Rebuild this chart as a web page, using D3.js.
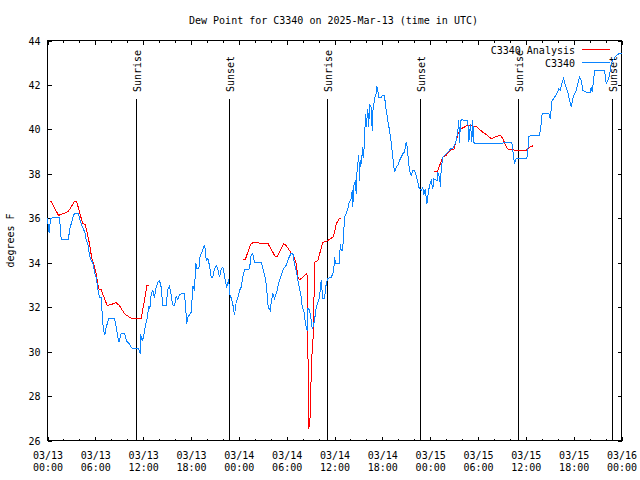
<!DOCTYPE html>
<html><head><meta charset="utf-8">
<script src="https://cdn.jsdelivr.net/npm/d3@7"></script>
<style>
body{margin:0;background:#fff}
svg text{font-family:"DejaVu Sans Mono","Liberation Mono",monospace;font-size:10px;fill:#000}
</style>
</head><body>
<svg id="chart" width="640" height="480"></svg>
<script>
const titleText = "Dew Point for C3340 on 2025-Mar-13 (time in UTC)";
const yAxisLabel = "degrees F";
const startUTC = Date.UTC(2025, 2, 13, 0, 0);
const xDomainHours = [0, 72];
const yDomain = [26, 44];
const yTickValues = [26, 28, 30, 32, 34, 36, 38, 40, 42, 44];
const xMajorHours = [0, 6, 12, 18, 24, 30, 36, 42, 48, 54, 60, 66, 72];
const xMinorHours = [2, 4, 8, 10, 14, 16, 20, 22, 26, 28, 32, 34, 38, 40, 44, 46, 50, 52, 56, 58, 62, 64, 68, 70];
const sunLabels = ["Sunrise", "Sunset", "Sunrise", "Sunset", "Sunrise", "Sunset"];
const sunHours = [11.05, 22.73, 35.03, 46.78, 59.0, 70.86];
const legendNames = ["C3340 Analysis", "C3340"];

// Observations C3340: [hours since 03/13 00:00 UTC, deg F]
const obsSeries = [[0,36.02],[0.04,35.83],[0.21,35.33],[0.38,35.98],[0.66,36.02],[1.51,36.02],[1.72,35.03],[2.63,35.03],[2.76,35.48],[2.97,35.75],[3.17,36.02],[3.39,36.23],[3.89,36.23],[4.01,36.02],[4.23,35.75],[4.43,35.57],[4.73,35.33],[4.85,35.03],[5.06,34.85],[5.27,34.33],[5.48,34.1],[5.68,34.02],[5.9,33.57],[6.11,33.35],[6.31,32.83],[6.52,32.42],[6.74,32.42],[6.86,31.7],[7.02,30.95],[7.19,30.77],[7.36,31.1],[7.69,31.48],[8.4,31.48],[8.62,31.1],[8.94,30.42],[9.24,30.8],[9.66,30.8],[9.95,30.47],[10.2,30.38],[10.5,30.2],[10.79,30.12],[11.45,30.12],[11.63,29.9],[11.67,30.8],[11.88,30.5],[12.04,30.65],[12.29,31.2],[12.46,31.4],[12.71,32.07],[12.83,31.9],[13.01,32.6],[13.21,32.75],[13.42,32.42],[13.63,32.9],[13.84,33.12],[14.05,33.2],[14.26,32.9],[14.46,32.07],[14.89,32.07],[15.09,32.8],[15.3,32.95],[15.52,32.53],[15.68,32.1],[15.93,32.07],[16.14,32.5],[16.34,32.35],[16.56,32.55],[16.77,32.6],[17.19,32.6],[17.31,32.03],[17.47,31.25],[17.6,31.55],[17.81,31.65],[18.03,31.77],[18.23,32.95],[18.44,32.75],[18.6,34.0],[18.75,33.73],[18.98,33.73],[19.15,34.33],[19.4,34.48],[19.57,34.7],[19.73,34.78],[19.91,34.1],[20.11,34.18],[20.32,33.88],[20.53,33.35],[20.74,33.35],[20.95,33.73],[21.16,33.88],[21.36,33.73],[21.58,33.35],[21.79,33.73],[21.99,33.8],[22.2,33.43],[22.33,33.12],[22.49,32.9],[22.74,33.25],[22.83,32.6],[23.04,32.42],[23.24,32.15],[23.46,31.63],[23.67,32.23],[23.87,32.4],[24.08,32.75],[24.3,32.9],[24.5,33.35],[24.71,33.68],[25.25,33.68],[25.42,33.95],[25.55,34.37],[25.75,34.4],[25.97,34.02],[26.81,34.02],[27.01,33.73],[27.35,33.28],[27.51,32.75],[27.68,32.0],[27.94,31.85],[28.06,32.23],[28.26,32.6],[28.48,32.38],[28.76,32.68],[29.01,33.12],[29.32,33.43],[29.6,33.73],[29.94,33.88],[30.27,34.22],[30.57,34.43],[30.77,34.43],[30.98,33.95],[31.2,33.65],[31.4,33.2],[31.61,32.83],[31.82,32.45],[31.95,32.0],[32.15,31.85],[32.33,31.32],[32.45,31.1],[32.58,30.95],[32.65,31.93],[32.87,31.9],[33.08,31.4],[33.2,31.03],[33.37,31.18],[33.58,31.63],[33.71,32.0],[34.12,32.45],[34.33,33.23],[34.53,32.38],[34.75,32.38],[34.96,33.05],[35.16,33.28],[35.59,33.35],[35.79,33.5],[35.91,33.65],[36.0,34.25],[36.13,33.95],[36.63,33.98],[36.72,34.85],[36.84,34.55],[37.0,34.55],[37.13,35.15],[37.26,36.05],[37.47,36.2],[37.67,36.43],[37.79,36.65],[38.09,36.88],[38.22,37.25],[38.3,36.5],[38.38,37.4],[38.51,37.55],[38.63,37.7],[38.72,37.1],[38.8,38.0],[38.92,38.45],[39.05,38.83],[39.14,37.7],[39.23,38.6],[39.35,38.45],[39.55,39.2],[39.64,38.7],[39.76,39.5],[39.89,40.7],[39.98,40.1],[40.18,40.93],[40.3,40.1],[40.39,41.15],[40.6,41.0],[40.73,39.95],[40.8,40.78],[41.02,41.38],[41.23,41.6],[41.31,41.93],[41.43,41.75],[41.56,41.45],[41.86,41.45],[42.06,41.53],[42.27,41.53],[42.4,41.08],[42.69,40.4],[42.9,39.95],[43.11,39.43],[43.31,38.75],[43.53,38.08],[43.74,38.3],[43.94,38.38],[44.15,38.6],[44.37,38.75],[44.57,38.9],[44.78,38.98],[45.0,39.43],[45.12,39.2],[45.25,38.68],[45.41,38.15],[45.62,37.93],[45.82,38.15],[46.04,38.15],[46.25,37.93],[46.45,37.63],[46.58,37.4],[46.88,37.25],[47.08,37.4],[47.2,37.03],[47.38,37.33],[47.58,36.65],[47.76,37.1],[47.92,37.5],[48.13,37.7],[48.33,37.33],[48.46,37.78],[48.88,37.7],[48.96,38.08],[49.17,37.85],[49.3,37.4],[49.38,38.23],[49.59,38.75],[49.8,38.83],[50.01,38.9],[50.21,38.98],[50.43,39.05],[50.55,39.13],[50.84,39.13],[51.05,39.28],[51.27,39.5],[51.39,39.73],[51.47,39.95],[51.59,40.4],[51.68,39.38],[51.81,40.4],[51.97,40.43],[52.72,40.4],[52.85,39.43],[53.06,40.25],[53.22,39.43],[53.35,40.43],[53.44,39.43],[53.56,39.38],[55.44,39.38],[56.91,39.38],[58.24,39.43],[58.45,38.83],[58.58,38.45],[58.79,38.68],[60.12,38.68],[60.25,39.05],[60.37,39.68],[60.67,39.73],[61.72,39.73],[61.93,40.25],[62.05,40.73],[62.88,40.73],[63.06,40.48],[63.31,41.38],[63.39,41.3],[63.6,41.45],[63.89,41.6],[64.14,41.83],[64.31,41.75],[64.56,42.1],[64.73,42.28],[64.98,41.98],[65.27,41.68],[65.48,41.3],[65.69,41.0],[65.89,41.38],[66.11,41.6],[66.32,41.75],[66.52,42.05],[66.73,42.35],[66.95,42.2],[67.15,41.75],[67.57,41.68],[68.08,41.68],[68.2,41.9],[68.33,41.68],[68.49,42.2],[68.62,42.65],[69.87,42.65],[70.08,42.05],[70.28,42.2],[70.5,42.43],[70.71,42.95],[70.91,43.1],[71.34,43.33],[71.66,43.4],[72.0,43.4]];

// Analysis C3340 (three runs)
const analysisRun1 = [[0.38,36.8],[1.38,36.13],[2.13,36.23],[2.63,36.32],[3.39,36.76],[3.64,36.77],[4.01,36.3],[4.39,35.78],[4.73,35.72],[4.98,35.33],[5.27,34.85],[5.56,34.18],[5.9,33.8],[6.11,33.5],[6.4,32.83],[6.74,32.78],[7.15,32.38],[7.49,32.07],[7.99,32.12],[8.62,32.2],[9.03,32.07],[9.66,31.7],[10.41,31.52],[11.0,31.48],[11.75,31.48],[12.17,32.33],[12.46,32.96],[12.73,32.96]];
const analysisRun2 = [[24.5,34.13],[24.8,34.13],[25.46,34.82],[25.75,34.9],[27.0,34.88],[27.63,34.88],[28.56,34.28],[28.81,34.28],[29.64,34.85],[29.94,34.78],[30.57,34.43],[30.77,34.4],[31.2,33.95],[31.4,33.35],[31.65,33.23],[32.24,33.43],[32.55,33.53],[32.78,26.53],[32.95,27.1],[33.12,29.6],[33.37,30.9],[33.49,34.02],[33.91,34.1],[34.53,34.92],[35.04,34.97],[35.79,35.15],[36.0,35.33],[36.21,35.75],[36.63,36.0],[36.84,36.0]];
const analysisRun3 = [[48.54,38.09],[48.88,38.09],[49.59,38.75],[50.01,38.83],[50.55,39.08],[50.97,39.1],[51.47,39.77],[51.89,40.03],[52.52,40.15],[52.93,40.18],[53.77,40.13],[54.6,39.87],[55.03,39.77],[55.66,39.58],[56.28,39.68],[56.82,39.73],[57.11,39.58],[57.66,39.13],[58.24,39.08],[59.19,39.05],[60.05,39.05],[60.46,39.2],[60.88,39.26]];

const colors = {analysis: "#ff0000", obs: "#0a84ff"};
const tDate = h => new Date(startUTC + h * 3600000);

const svg = d3.select("#chart");
const L = 47.5, R = 621.5, T = 40.5, B = 440.5;
const x = d3.scaleUtc().domain(xDomainHours.map(tDate)).range([L, R]);
const y = d3.scaleLinear().domain(yDomain).range([B, T]);

// title
svg.append("text").attr("x", 333.5).attr("y", 24).attr("text-anchor", "middle").text(titleText);
// y label
svg.append("text").attr("transform", "translate(14,240.5) rotate(-90)").attr("text-anchor", "middle").text(yAxisLabel);

const fmtFix = g => { g.select(".domain").remove(); g.attr("font-family", null).attr("font-size", null);
  g.selectAll("line").attr("stroke", "#000").attr("shape-rendering", "crispEdges"); };

// bottom axis major
const gB = svg.append("g").attr("transform", `translate(0,${B})`)
  .call(d3.axisBottom(x).tickValues(xMajorHours.map(tDate)).tickSize(-4).tickSizeOuter(0).tickPadding(0)
    .tickFormat(d3.utcFormat("%m/%d|%H:%M")));
fmtFix(gB);
gB.selectAll("text").each(function(d) {
  const parts = d3.utcFormat("%m/%d|%H:%M")(d).split("|");
  const t = d3.select(this).attr("dy", null).attr("y", null).text(null);
  t.append("tspan").attr("x", 0).attr("y", 18.5).text(parts[0]);
  t.append("tspan").attr("x", 0).attr("y", 30.5).text(parts[1]);
});
const gBm = svg.append("g").attr("transform", `translate(0,${B})`)
  .call(d3.axisBottom(x).tickValues(xMinorHours.map(tDate)).tickSize(-2).tickSizeOuter(0).tickFormat(""));
fmtFix(gBm);
// top axis mirror
const gT = svg.append("g").attr("transform", `translate(0,${T})`)
  .call(d3.axisTop(x).tickValues(xMajorHours.map(tDate)).tickSize(-4).tickSizeOuter(0).tickFormat(""));
fmtFix(gT);
const gTm = svg.append("g").attr("transform", `translate(0,${T})`)
  .call(d3.axisTop(x).tickValues(xMinorHours.map(tDate)).tickSize(-2).tickSizeOuter(0).tickFormat(""));
fmtFix(gTm);
// left axis
const gL = svg.append("g").attr("transform", `translate(${L},0)`)
  .call(d3.axisLeft(y).tickValues(yTickValues).tickSize(-4).tickSizeOuter(0).tickPadding(7).tickFormat(d3.format("d")));
fmtFix(gL);
gL.selectAll("text").attr("dy", "0.35em");
// right axis
const gR = svg.append("g").attr("transform", `translate(${R},0)`)
  .call(d3.axisRight(y).tickValues(yTickValues).tickSize(-4).tickSizeOuter(0).tickFormat(""));
fmtFix(gR);

// frame
svg.append("rect").attr("x", L).attr("y", T).attr("width", R - L).attr("height", B - T)
  .attr("fill", "none").attr("stroke", "#000").attr("shape-rendering", "crispEdges");

// sunrise / sunset markers
const sun = svg.append("g");
sunHours.forEach((h, i) => {
  const sx = Math.round(x(tDate(h))) + 0.5;
  sun.append("line").attr("x1", sx).attr("x2", sx).attr("y1", 99).attr("y2", B)
    .attr("stroke", "#000").attr("shape-rendering", "crispEdges");
  sun.append("text").attr("transform", `translate(${sx + 4.5},92) rotate(-90)`).text(sunLabels[i]);
});

// data lines
const line = d3.line().x(d => x(tDate(d[0]))).y(d => y(d[1]));
[analysisRun1, analysisRun2, analysisRun3].forEach(run => {
  svg.append("path").attr("d", line(run)).attr("fill", "none").attr("stroke", colors.analysis)
    .attr("stroke-width", 1).attr("shape-rendering", "crispEdges");
});
svg.append("path").attr("d", line(obsSeries)).attr("fill", "none").attr("stroke", colors.obs)
  .attr("stroke-width", 1).attr("shape-rendering", "crispEdges");

// legend
const legColors = [colors.analysis, colors.obs];
legendNames.forEach((name, i) => {
  const ly = 49.5 + i * 13;
  svg.append("text").attr("x", 575).attr("y", ly + 4.5).attr("text-anchor", "end").text(name);
  svg.append("line").attr("x1", 582).attr("x2", 610).attr("y1", ly).attr("y2", ly)
    .attr("stroke", legColors[i]).attr("shape-rendering", "crispEdges");
});
</script>
</body></html>
